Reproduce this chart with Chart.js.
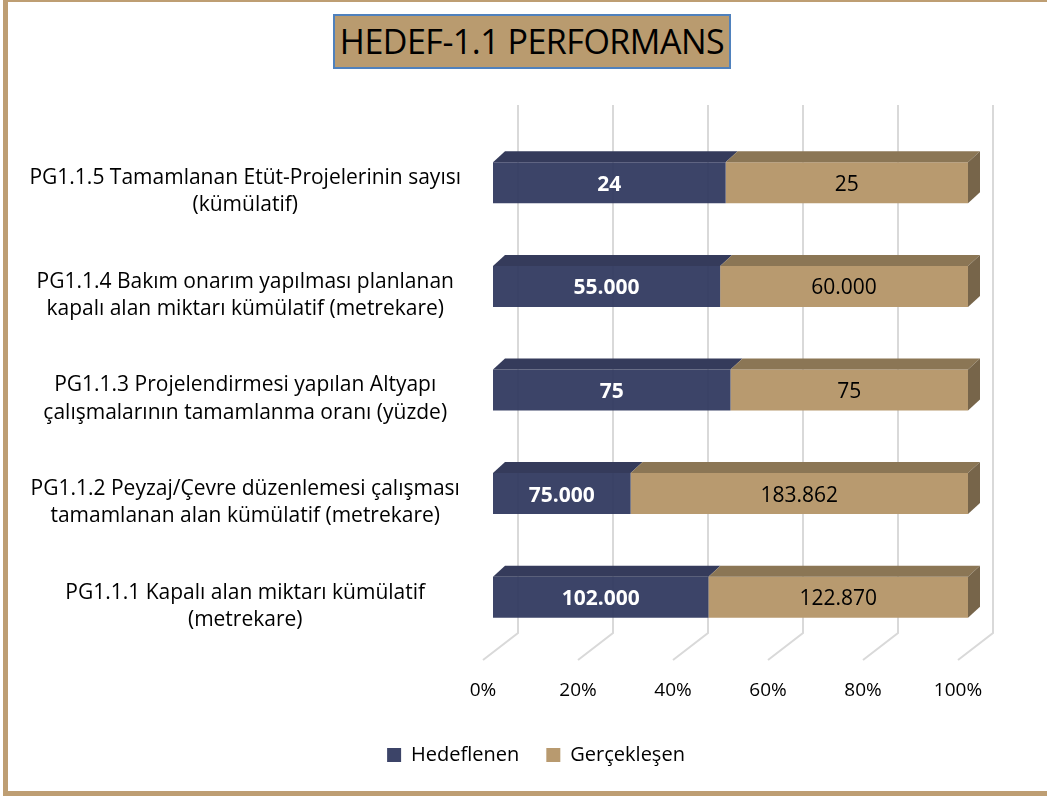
<!DOCTYPE html>
<html><head><meta charset="utf-8">
<script src="https://cdn.jsdelivr.net/npm/chart.js@4.4.1/dist/chart.umd.min.js"></script>
<style>
html,body{margin:0;padding:0;background:#fff;}
#wrap{position:relative;width:1047px;height:796px;overflow:hidden;background:#fff;}
#c{position:absolute;left:0;top:0;}
#frame{position:absolute;left:3px;top:-3px;width:1100px;height:799px;border:5px solid #BE9E73;box-sizing:border-box;pointer-events:none;}
#title{position:absolute;left:333px;top:14px;width:398px;height:55px;box-sizing:border-box;background:#B99B6F;border:2px solid #4F81BD;font-family:"Open Sans",sans-serif;font-size:34px;letter-spacing:-0.5px;line-height:51px;text-align:center;color:#000;white-space:nowrap;}
</style></head>
<body><div id="wrap"><canvas id="c" width="1047" height="796"></canvas><div id="title">HEDEF-1.1 PERFORMANS</div><div id="frame"></div></div>
<script>
const categories = [
  ["PG1.1.5 Tamamlanan Etüt-Projelerinin sayısı", "(kümülatif)"],
  ["PG1.1.4 Bakım onarım yapılması planlanan", "kapalı alan miktarı kümülatif (metrekare)"],
  ["PG1.1.3 Projelendirmesi yapılan Altyapı", "çalışmalarının tamamlanma oranı (yüzde)"],
  ["PG1.1.2 Peyzaj/Çevre düzenlemesi çalışması", "tamamlanan alan kümülatif (metrekare)"],
  ["PG1.1.1 Kapalı alan miktarı kümülatif", "(metrekare)"]
];
const hedeflenen = [24, 55000, 75, 75000, 102000];
const gerceklesen = [25, 60000, 75, 183862, 122870];
const seriesNames = ["Hedeflenen", "Gerçekleşen"];
const xTicks = [0, 20, 40, 60, 80, 100];

const pctH = hedeflenen.map((v, i) => v / (v + gerceklesen[i]) * 100);
const pctG = gerceklesen.map((v, i) => v / (v + hedeflenen[i]) * 100);
const rawValues = [hedeflenen, gerceklesen];

const F = "'Open Sans', sans-serif";
const frontColors = ['rgba(50,58,96,0.95)', '#B89A6F'];
const topColors = ['#353B5B', '#8B7655'];
const sideColor = '#77654A';
const labelColors = ['#ffffff', '#000000'];
const labelWeights = ['bold', 'normal'];
const DX = 12, DY = 11;
const LEGEND_SHIFT = 42;

function fmt(n) { return String(n).replace(/\B(?=(\d{3})+(?!\d))/g, '.'); }

const depthPlugin = {
  id: 'depth',
  afterLayout(chart) {
    if (chart.legend) { chart.legend.left += LEGEND_SHIFT; chart.legend.right += LEGEND_SHIFT; }
  },
  beforeDatasetsDraw(chart) {
    const ctx = chart.ctx, xs = chart.scales.x, area = chart.chartArea;
    ctx.save();
    ctx.strokeStyle = '#D9D9D9';
    ctx.lineWidth = 2;
    xTicks.forEach(v => {
      const px = xs.getPixelForValue(v);
      ctx.beginPath();
      ctx.moveTo(px + 25, area.top - 26);
      ctx.lineTo(px + 25, area.bottom - 16);
      ctx.lineTo(px - 10, area.bottom + 11);
      ctx.stroke();
    });
    ctx.restore();
  },
  afterDatasetsDraw(chart) {
    const ctx = chart.ctx;
    const n = chart.data.datasets.length;
    ctx.save();
    chart.data.datasets.forEach((ds, di) => {
      const meta = chart.getDatasetMeta(di);
      meta.data.forEach(el => {
        const p = el.getProps(['x', 'y', 'base', 'height'], true);
        const top = p.y - p.height / 2, bot = p.y + p.height / 2;
        ctx.fillStyle = topColors[di];
        ctx.beginPath();
        ctx.moveTo(p.base, top);
        ctx.lineTo(p.base + DX, top - DY);
        ctx.lineTo(p.x + DX, top - DY);
        ctx.lineTo(p.x, top);
        ctx.closePath();
        ctx.fill();
        if (di === n - 1) {
          ctx.fillStyle = sideColor;
          ctx.beginPath();
          ctx.moveTo(p.x, top);
          ctx.lineTo(p.x + DX, top - DY);
          ctx.lineTo(p.x + DX, bot - DY);
          ctx.lineTo(p.x, bot);
          ctx.closePath();
          ctx.fill();
        }
      });
    });
    ctx.textAlign = 'center';
    ctx.textBaseline = 'middle';
    chart.data.datasets.forEach((ds, di) => {
      const meta = chart.getDatasetMeta(di);
      ctx.fillStyle = labelColors[di];
      ctx.font = labelWeights[di] + ' 21px ' + F;
      meta.data.forEach((el, i) => {
        const p = el.getProps(['x', 'y', 'base'], true);
        ctx.fillText(fmt(rawValues[di][i]), (p.x + p.base) / 2, p.y + 2);
      });
    });
    ctx.restore();
  }
};

new Chart(document.getElementById('c'), {
  type: 'bar',
  data: {
    labels: categories,
    datasets: [
      { label: seriesNames[0], data: pctH, backgroundColor: frontColors[0], borderWidth: 0, barPercentage: 0.396, categoryPercentage: 1 },
      { label: seriesNames[1], data: pctG, backgroundColor: frontColors[1], borderWidth: 0, barPercentage: 0.396, categoryPercentage: 1 }
    ]
  },
  options: {
    indexAxis: 'y',
    responsive: false,
    animation: false,
    devicePixelRatio: 1,
    layout: { padding: { left: 20, right: 79, top: 131, bottom: 21 } },
    plugins: {
      legend: { position: 'bottom', labels: { boxWidth: 14, boxHeight: 14, padding: 27, color: '#000', font: { family: F, size: 20 } } },
      tooltip: { enabled: false },
      title: { display: false }
    },
    scales: {
      x: {
        stacked: true, min: 0, max: 100,
        grid: { display: false, drawTicks: false }, border: { display: false },
        afterBuildTicks(s) { s.ticks = xTicks.map(v => ({ value: v })); },
        ticks: { padding: 30, labelOffset: -10, maxRotation: 0, autoSkip: false, color: '#000', font: { family: F, size: 19 }, callback: v => v + '%' },
        afterFit(s) { s.height = 69; }
      },
      y: {
        stacked: true,
        grid: { display: false, drawTicks: false }, border: { display: false },
        ticks: { crossAlign: 'center', padding: 32, labelOffset: 9, autoSkip: false, color: '#000', font: { family: F, size: 21, lineHeight: 1.3 } },
        afterFit(s) { s.width = 473; }
      }
    }
  },
  plugins: [depthPlugin]
});
</script>
</body></html>
